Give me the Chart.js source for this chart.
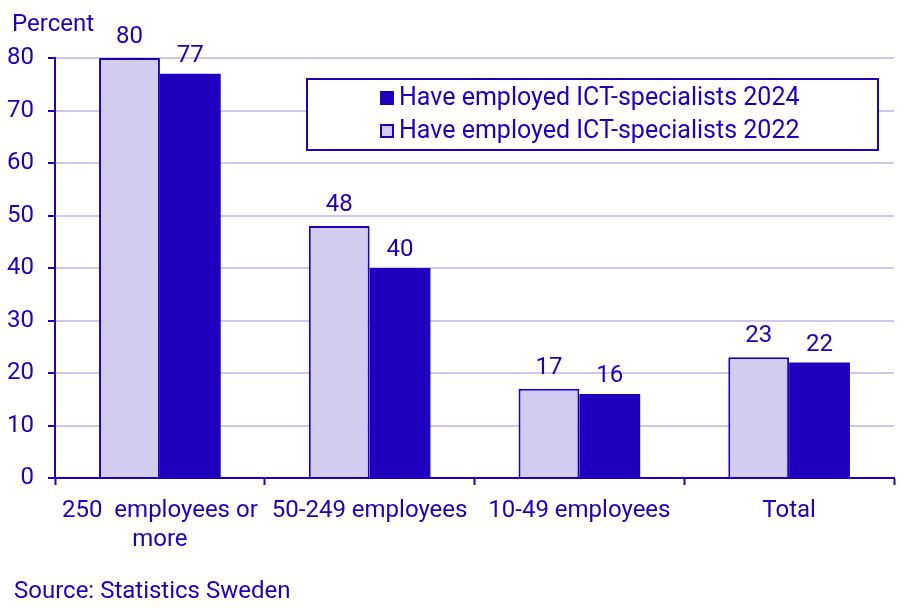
<!DOCTYPE html>
<html>
<head>
<meta charset="utf-8">
<script src="https://cdn.jsdelivr.net/npm/chart.js@4"></script>
<style>
  body { margin: 0; background: #fff; }
  #wrap { width: 907px; height: 613px; position: relative; }
</style>
</head>
<body>
<div id="wrap"><canvas id="myChart"></canvas></div>
<script>
var categories = [["250  employees or", "more"], "50-249 employees", "10-49 employees", "Total"];
var values2022 = [80, 48, 17, 23];
var values2024 = [77, 40, 16, 22];
var yTicks = [0, 10, 20, 30, 40, 50, 60, 70, 80];

var dark = "#1e00be";
var light = "#d2ccf0";
var gridColor = "#ccc8ee";
var font = "Roboto, 'Noto Sans', sans-serif";

// value labels above bars, legend box, axis title and source
var extras = {
  id: "extras",
  afterDatasetsDraw: function (chart) {
    var c = chart.ctx;
    c.save();
    c.font = "24px " + font;
    c.fillStyle = dark;
    c.textAlign = "center";
    c.textBaseline = "alphabetic";
    chart.data.datasets.forEach(function (ds, i) {
      var gap = i === 0 ? 15 : 12;
      chart.getDatasetMeta(i).data.forEach(function (bar, j) {
        c.fillText(ds.data[j], bar.x, bar.y - gap);
      });
    });
    c.restore();
  },
  afterDraw: function (chart) {
    var c = chart.ctx;
    c.save();
    c.font = "24px " + font;
    c.fillStyle = dark;
    c.textBaseline = "alphabetic";
    c.textAlign = "left";
    c.fillText("Percent", 12, 31);
    c.fillText("Source: Statistics Sweden", 14, 598);

    // legend
    c.fillStyle = "#fff";
    c.fillRect(307, 79, 571, 71);
    c.strokeStyle = dark;
    c.lineWidth = 2;
    c.strokeRect(307, 79, 571, 71);
    c.font = "25px " + font;
    var items = [
      { text: chart.data.datasets[1].label, fill: dark, y: 105 },
      { text: chart.data.datasets[0].label, fill: light, y: 138 },
    ];
    items.forEach(function (it) {
      c.fillStyle = it.fill;
      c.fillRect(381, it.y - 13, 12, 12);
      c.lineWidth = 2;
      c.strokeStyle = dark;
      c.strokeRect(381, it.y - 13, 12, 12);
      c.fillStyle = dark;
      c.fillText(it.text, 399, it.y);
    });
    c.restore();
  },
};

var ctx = document.getElementById("myChart").getContext("2d");
var myChart = new Chart(ctx, {
  type: "bar",
  data: {
    labels: categories,
    datasets: [
      {
        label: "Have employed ICT-specialists 2022",
        data: values2022,
        backgroundColor: light,
        borderColor: dark,
        borderWidth: 2,
        borderSkipped: "bottom",
        categoryPercentage: 0.58,
        barPercentage: 1.0,
      },
      {
        label: "Have employed ICT-specialists 2024",
        data: values2024,
        backgroundColor: dark,
        borderColor: dark,
        borderWidth: 0,
        categoryPercentage: 0.58,
        barPercentage: 1.0,
      },
    ],
  },
  options: {
    responsive: true,
    maintainAspectRatio: false,
    animation: false,
    plugins: {
      legend: { display: false },
      tooltip: { enabled: false },
    },
    layout: {
      padding: { top: 58, right: 13, left: 0, bottom: 0 },
    },
    scales: {
      x: {
        grid: {
          display: true,
          drawOnChartArea: false,
          offset: true,
          tickLength: 7,
          tickColor: dark,
          tickWidth: 2,
        },
        border: { color: dark, width: 2 },
        ticks: {
          color: dark,
          font: { family: font, size: 24, lineHeight: 1.2 },
          padding: 12,
          maxRotation: 0,
          autoSkip: false,
        },
        afterFit: function (scale) {
          scale.height = 613 - 478;
        },
      },
      y: {
        min: 0,
        max: 80,
        afterBuildTicks: function (scale) {
          scale.ticks = yTicks.map(function (v) { return { value: v }; });
        },
        grid: {
          color: gridColor,
          lineWidth: 2,
          tickLength: 7,
          tickColor: dark,
          tickWidth: 2,
        },
        border: { color: dark, width: 2 },
        ticks: {
          color: dark,
          font: { family: font, size: 24 },
          padding: 14,
        },
        afterFit: function (scale) {
          scale.width = 55;
        },
      },
    },
  },
  plugins: [extras],
});
</script>
</body>
</html>
